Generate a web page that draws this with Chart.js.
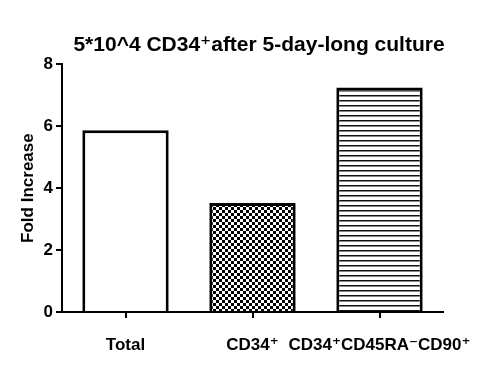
<!DOCTYPE html>
<html>
<head>
<meta charset="utf-8">
<script src="https://cdn.jsdelivr.net/npm/chart.js@4.4.1/dist/chart.umd.min.js"></script>
<style>
html,body{margin:0;padding:0;background:#fff;}
#c{display:block;}
</style>
</head>
<body>
<canvas id="c" width="500" height="372"></canvas>
<script>
// ---- data ----
const categories = ['Total', 'CD34\u207A', 'CD34\u207ACD45RA\u207BCD90\u207A'];
const foldIncrease = [5.87, 3.52, 7.25];
const yTicks = [0, 2, 4, 6, 8];
const chartTitle = '5*10^4 CD34\u207Aafter 5-day-long culture';
const yTitle = 'Fold Increase';

const FONT = "Arial, 'Liberation Sans', 'DejaVu Sans', sans-serif";

function makeChecker() {
  const t = document.createElement('canvas');
  t.width = 6; t.height = 6;
  const g = t.getContext('2d');
  g.fillStyle = '#fff'; g.fillRect(0, 0, 6, 6);
  g.fillStyle = '#000';
  g.fillRect(0, 0, 3, 3);
  g.fillRect(3, 3, 3, 3);
  return g.createPattern(t, 'repeat');
}
function makeLines() {
  const t = document.createElement('canvas');
  t.width = 4; t.height = 5;
  const g = t.getContext('2d');
  g.fillStyle = '#fff'; g.fillRect(0, 0, 4, 5);
  g.fillStyle = '#111'; g.fillRect(0, 0, 4, 1);
  g.fillStyle = '#888'; g.fillRect(0, 1, 4, 1);
  return g.createPattern(t, 'repeat');
}

const ctx = document.getElementById('c').getContext('2d');
new Chart(ctx, {
  type: 'bar',
  data: {
    labels: categories,
    datasets: [{
      data: foldIncrease,
      backgroundColor: ['#ffffff', makeChecker(), makeLines()],
      borderColor: '#000',
      borderWidth: 3,
      borderSkipped: 'bottom',
      barPercentage: 0.68,
      categoryPercentage: 1.0
    }]
  },
  options: {
    responsive: false,
    animation: false,
    devicePixelRatio: 1,
    layout: { padding: { left: 18, right: 0, top: 0, bottom: 0 } },
    plugins: {
      legend: { display: false },
      tooltip: { enabled: false },
      title: {
        display: true,
        text: chartTitle,
        color: '#000',
        font: { family: FONT, size: 21, weight: 'bold' },
        padding: { top: 33, bottom: 6 }
      }
    },
    scales: {
      x: {
        z: 1,
        offset: true,
        grid: { display: true, drawOnChartArea: false, offset: false, tickLength: 6, color: '#000', lineWidth: 2 },
        border: { display: true, color: '#000', width: 2 },
        ticks: { color: '#000', font: { family: FONT, size: 17, weight: 'bold' }, padding: 17, maxRotation: 0, autoSkip: false },
        afterFit: s => { s.height = 60; }
      },
      y: {
        z: 1,
        min: 0, max: 8,
        afterBuildTicks: s => { s.ticks = yTicks.map(v => ({ value: v })); },
        grid: { display: true, drawOnChartArea: false, tickLength: 6, color: '#000', lineWidth: 2 },
        border: { display: true, color: '#000', width: 2 },
        ticks: { color: '#000', font: { family: FONT, size: 17, weight: 'bold' }, padding: 3 },
        title: { display: true, text: yTitle, color: '#000', font: { family: FONT, size: 17, weight: 'bold' }, padding: 0 },
        afterFit: s => { s.width = 44; }
      },
      yr: {
        type: 'linear',
        position: 'right',
        display: true,
        grid: { display: false },
        border: { display: false },
        ticks: { display: false },
        afterFit: s => { s.width = 57; }
      }
    }
  }
});
</script>
</body>
</html>
